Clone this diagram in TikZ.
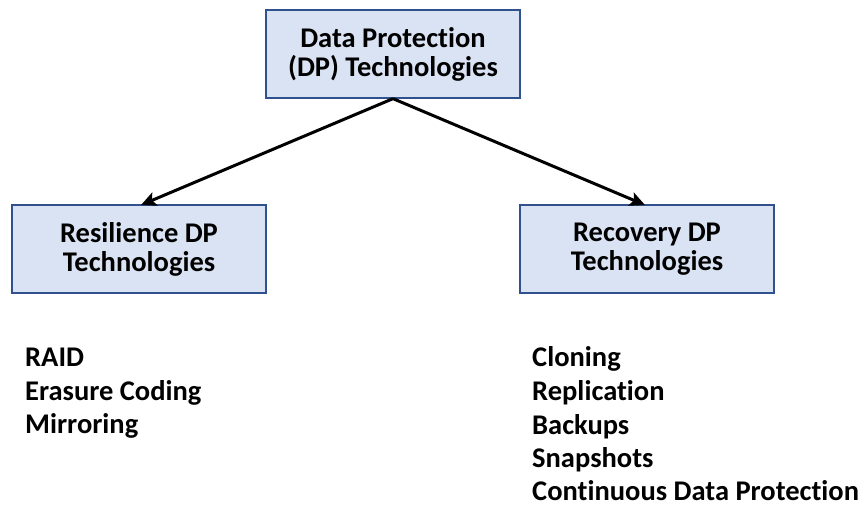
\documentclass[tikz,border=0pt]{standalone}
\usepackage{fontspec}
\setmainfont{Carlito}[Ligatures={NoCommon}]
\usetikzlibrary{arrows.meta}
\definecolor{boxfill}{HTML}{DAE3F3}
\definecolor{boxline}{HTML}{2F528F}
\tikzset{
  techbox/.style={draw=boxline, fill=boxfill, line width=1.3pt,
    minimum width=254pt, minimum height=88pt, inner sep=0pt,
    align=center, font=\bfseries\fontsize{28.5}{29}\selectfont},
  listtext/.style={anchor=base west, inner sep=0pt,
    font=\bfseries\fontsize{28.5}{29}\selectfont},
  link/.style={line width=3pt, -{Stealth[length=15pt, width=14pt, inset=3pt]}}
}
\begin{document}
\begin{tikzpicture}[x=1pt, y=-1pt]
  \useasboundingbox (0,0) rectangle (861,508);
  % three technology boxes
  \node[techbox] (dp)  at (393,54)  {Data Protection\\(DP) Technologies};
  \node[techbox] (res) at (139,249) {Resilience DP\\Technologies};
  \node[techbox] (rec) at (647,249) {Recovery DP\\Technologies};
  % arrow end points on the upper edge of the lower boxes
  \coordinate (resin) at (141,205);
  \coordinate (recin) at (645,205);
  \draw[link] (dp.south) -- (resin);
  \draw[link] (dp.south) -- (recin);
  % resilience technologies
  \node[listtext] (raid) at (25,366) {RAID};
  \node[listtext] (ec)   at (25,400) {Erasure Coding};
  \node[listtext] (mir)  at (25,433) {Mirroring};
  % recovery technologies
  \node[listtext] (clo)  at (532,366) {Cloning};
  \node[listtext] (rep)  at (532,400) {Replication};
  \node[listtext] (bak)  at (532,434) {Backups};
  \node[listtext] (snap) at (532,467) {Snapshots};
  \node[listtext] (cdp)  at (532,500) {Continuous Data Protection};
\end{tikzpicture}
\end{document}
